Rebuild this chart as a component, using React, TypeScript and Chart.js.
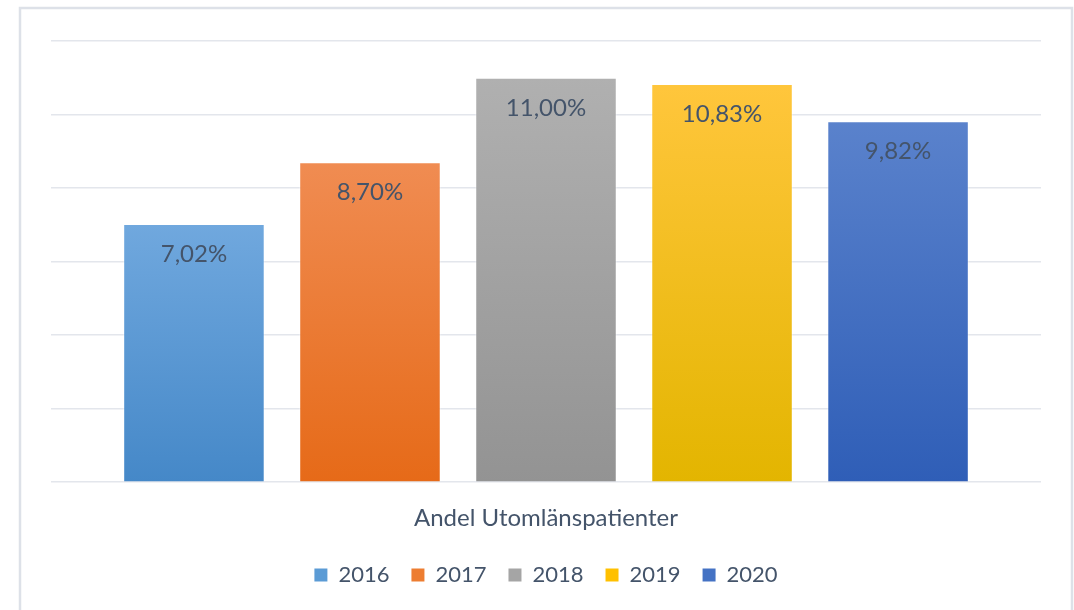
import React, { useEffect, useRef } from "react";
import { Chart, registerables } from "chart.js";

Chart.register(...registerables);

const categories = ["Andel Utomlänspatienter"];
const years = ["2016", "2017", "2018", "2019", "2020"];
const values = [7.02, 8.7, 11.0, 10.83, 9.82];
const topColors = ["#70a8de", "#f08c52", "#b0b0b0", "#ffc63c", "#5a82cc"];
const bottomColors = ["#4588c8", "#e66a18", "#939393", "#e3b500", "#2f5eb7"];
const solidColors = ["#5b9bd5", "#ed7d31", "#a5a5a5", "#ffc000", "#4472c4"];
const yTicks = [0, 2, 4, 6, 8, 10, 12];

const TEXT = "#44546a";
const FONT = "Lato, 'Open Sans', sans-serif";

const fmt = (v: number) => v.toFixed(2).replace(".", ",") + "%";

const framePlugin = {
  id: "frame",
  beforeDraw(chart: any) {
    const ctx = chart.ctx;
    ctx.save();
    ctx.fillStyle = "#ffffff";
    ctx.fillRect(0, 0, chart.width, chart.height);
    ctx.strokeStyle = "#dde1e8";
    ctx.lineWidth = 2.5;
    ctx.strokeRect(20, 8, 1052, 700);
    ctx.restore();
  },
};

const labelPlugin = {
  id: "barLabels",
  afterDatasetsDraw(chart: any) {
    const ctx = chart.ctx;
    ctx.save();
    ctx.font = `24px ${FONT}`;
    ctx.fillStyle = TEXT;
    ctx.textAlign = "center";
    ctx.textBaseline = "middle";
    chart.data.datasets.forEach((ds: any, i: number) => {
      const meta = chart.getDatasetMeta(i);
      meta.data.forEach((el: any, j: number) => {
        ctx.fillText(fmt(ds.data[j]), el.x, el.y + 30);
      });
    });
    ctx.restore();
  },
};

export default function App() {
  const ref = useRef<HTMLCanvasElement>(null);
  useEffect(() => {
    if (!ref.current) return;
    const chart = new Chart(ref.current, {
      type: "bar",
      data: {
        labels: categories,
        datasets: years.map((y, i) => ({
          label: y,
          data: [values[i]],
          backgroundColor: (c: any) => {
            const ch = c.chart;
            const ys = ch.scales?.y;
            if (!ys || !ch.chartArea) return solidColors[i];
            const top = ys.getPixelForValue(values[i]);
            const bot = ys.getPixelForValue(0);
            const g = ch.ctx.createLinearGradient(0, top, 0, bot);
            g.addColorStop(0, topColors[i]);
            g.addColorStop(1, bottomColors[i]);
            return g;
          },
          borderColor: "rgba(255,255,255,0.45)",
          borderWidth: 1,
          categoryPercentage: 0.889,
          barPercentage: 0.804,
        })),
      },
      options: {
        responsive: false,
        animation: false,
        devicePixelRatio: 1,
        layout: { padding: { left: 51, right: 33, top: 41, bottom: 14 } },
        plugins: {
          legend: {
            position: "bottom",
            labels: {
              boxWidth: 13,
              boxHeight: 13,
              padding: 22,
              color: TEXT,
              font: { family: FONT, size: 22 },
              generateLabels: (ch: any) =>
                ch.data.datasets.map((ds: any, i: number) => ({
                  text: ds.label,
                  fillStyle: solidColors[i],
                  strokeStyle: solidColors[i],
                  lineWidth: 0,
                  fontColor: TEXT,
                  datasetIndex: i,
                  hidden: false,
                })),
            },
          },
          tooltip: { enabled: false },
        },
        scales: {
          x: {
            grid: { display: false },
            border: { display: false },
            ticks: { color: TEXT, font: { family: FONT, size: 24 }, padding: 14 },
            afterFit: (s: any) => {
              s.height = s.height - 5;
            },
          },
          y: {
            min: yTicks[0],
            max: yTicks[yTicks.length - 1],
            afterBuildTicks: (s: any) => {
              s.ticks = yTicks.map((v) => ({ value: v }));
            },
            ticks: { display: false },
            grid: { color: "#e3e6ec", lineWidth: 1.5, drawTicks: false },
            border: { display: false },
          },
        },
      },
      plugins: [framePlugin, labelPlugin],
    });
    return () => chart.destroy();
  }, []);
  return (
    <div style={{ position: "absolute", left: 0, top: 0, width: 1074, height: 610 }}>
      <canvas ref={ref} width={1074} height={610} />
    </div>
  );
}
